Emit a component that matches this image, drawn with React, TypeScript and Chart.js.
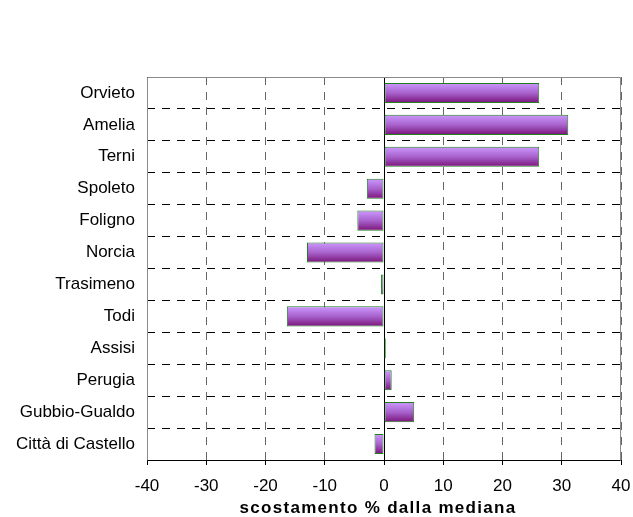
import React, { useEffect, useRef } from "react";
import { Chart, registerables } from "chart.js";

Chart.register(...registerables);

const categories = [
  "Orvieto",
  "Amelia",
  "Terni",
  "Spoleto",
  "Foligno",
  "Norcia",
  "Trasimeno",
  "Todi",
  "Assisi",
  "Perugia",
  "Gubbio-Gualdo",
  "Città di Castello",
];
const values = [26.2, 31.1, 26.2, -2.9, -4.5, -13.0, -0.5, -16.4, 0.3, 1.3, 5.1, -1.6];
const xTickValues = [-40, -30, -20, -10, 0, 10, 20, 30, 40];
const xTitle = "scostamento % dalla mediana";

const FONT = "'Liberation Sans', Arial, sans-serif";
const BAR_PCT = 0.63;

const framePlugin = {
  id: "frame",
  beforeDatasetsDraw(chart: any) {
    const { ctx, chartArea, scales } = chart;
    const x0 = Math.round(scales.x.getPixelForValue(0)) + 0.5;
    ctx.save();
    ctx.strokeStyle = "#000";
    ctx.lineWidth = 1;
    ctx.setLineDash([]);
    ctx.beginPath();
    ctx.moveTo(x0, chartArea.top);
    ctx.lineTo(x0, chartArea.bottom);
    ctx.stroke();
    ctx.restore();
  },
  afterDatasetsDraw(chart: any) {
    const { ctx, chartArea } = chart;
    const l = Math.round(chartArea.left) + 0.5;
    const r = Math.round(chartArea.right) - 0.5;
    const t = Math.round(chartArea.top) + 0.5;
    const b = Math.round(chartArea.bottom) + 0.5;
    ctx.save();
    ctx.setLineDash([]);
    ctx.lineWidth = 1;
    ctx.strokeStyle = "#8a8a8a";
    ctx.beginPath();
    ctx.moveTo(l, b);
    ctx.lineTo(l, t);
    ctx.lineTo(r, t);
    ctx.lineTo(r, b);
    ctx.stroke();
    ctx.strokeStyle = "#000";
    ctx.beginPath();
    ctx.moveTo(l, b);
    ctx.lineTo(r, b);
    ctx.stroke();
    ctx.restore();
  },
  afterDraw(chart: any) {
    const { ctx } = chart;
    ctx.save();
    ctx.font = `bold 17px ${FONT}`;
    (ctx as any).letterSpacing = "1.3px";
    ctx.fillStyle = "#000";
    ctx.textAlign = "center";
    ctx.textBaseline = "middle";
    ctx.fillText(xTitle, 378, 508);
    ctx.restore();
  },
};

export default function App() {
  const ref = useRef<HTMLCanvasElement | null>(null);
  useEffect(() => {
    if (!ref.current) return;
    const chart = new Chart(ref.current, {
      type: "bar",
      data: {
        labels: categories,
        datasets: [
          {
            data: values,
            backgroundColor: (c: any) => {
              const ch = c.chart;
              const ys = ch.scales && ch.scales.y;
              if (!ys || !ch.chartArea || c.dataIndex === undefined) return "#b070d8";
              const yc = ys.getPixelForValue(c.dataIndex);
              const half = ((ys.height / categories.length) * BAR_PCT) / 2;
              const g = ch.ctx.createLinearGradient(0, yc - half, 0, yc + half);
              g.addColorStop(0, "#cc99ff");
              g.addColorStop(0.5, "#a862cc");
              g.addColorStop(1, "#7a137a");
              return g;
            },
            borderColor: "#1f7f1f",
            borderWidth: 1,
            borderSkipped: false,
            barPercentage: BAR_PCT,
            categoryPercentage: 1,
          },
        ],
      },
      options: {
        indexAxis: "y",
        animation: false,
        responsive: false,
        events: [],
        layout: { padding: { top: 77, right: 12, left: 0, bottom: 0 } },
        plugins: { legend: { display: false }, tooltip: { enabled: false }, title: { display: false } },
        scales: {
          x: {
            type: "linear",
            min: -40,
            max: 40,
            afterBuildTicks: (s: any) => {
              s.ticks = xTickValues.map((v) => ({ value: v }));
            },
            afterFit: (s: any) => {
              s.height = 57;
              s.paddingLeft = 0;
              s.paddingRight = 0;
            },
            grid: {
              color: "#666",
              lineWidth: 1,
              drawTicks: true,
              tickLength: 5,
              tickColor: "#000",
              tickBorderDash: [],
            },
            border: { display: false, dash: [8, 7] },
            ticks: {
              color: "#000",
              font: { family: FONT, size: 17 },
              padding: 11,
              maxRotation: 0,
            },
          },
          y: {
            type: "category",
            afterFit: (s: any) => {
              s.width = 147;
              s.paddingTop = 0;
              s.paddingBottom = 0;
            },
            grid: { color: "#000", lineWidth: 1, drawTicks: false, offset: true },
            border: { display: false, dash: [8, 7] },
            ticks: {
              color: "#000",
              font: { family: FONT, size: 17 },
              padding: 12,
            },
          },
        },
      },
      plugins: [framePlugin],
    } as any);
    return () => chart.destroy();
  }, []);
  return (
    <div style={{ position: "fixed", left: 0, top: 0, width: 633, height: 517, background: "#fff" }}>
      <canvas ref={ref} width={633} height={517} style={{ display: "block" }} />
    </div>
  );
}
